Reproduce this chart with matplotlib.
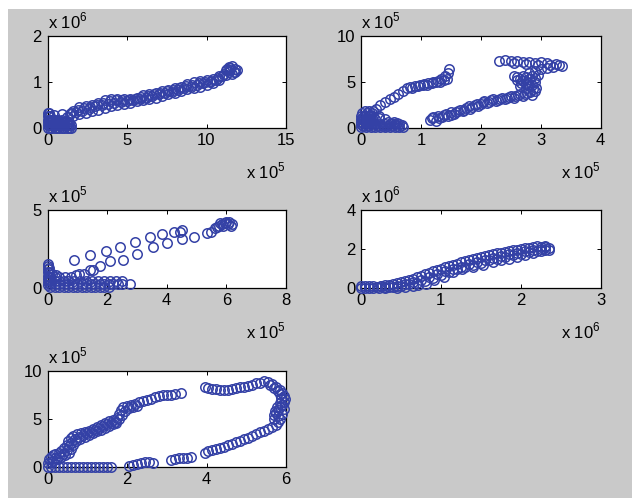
import matplotlib
matplotlib.use("Agg")
import matplotlib.pyplot as plt
from matplotlib.patches import Rectangle

plt.rcParams['font.family'] = ['Liberation Sans', 'DejaVu Sans']

# ---- panel 1: x in units of 1e5, y in units of 1e6 ----
p1_origin = [(0.0, 0.0), (0.15, 0.0), (0.3, 0.0), (0.45, 0.0), (0.6, 0.0), (0.75, 0.0),
             (0.9, 0.0), (1.05, 0.0), (1.2, 0.0), (1.35, 0.0), (1.5, 0.0),
             (0.0, 0.06), (0.15, 0.06), (0.3, 0.06), (0.45, 0.06), (0.6, 0.06), (0.75, 0.06),
             (0.9, 0.06), (1.05, 0.06), (1.2, 0.06), (1.35, 0.06), (1.5, 0.06),
             (0.0, 0.12), (0.15, 0.12), (0.3, 0.12), (0.45, 0.12), (0.6, 0.12), (0.75, 0.12),
             (0.9, 0.12), (1.05, 0.12), (1.2, 0.12), (1.35, 0.12),
             (0.0, 0.18), (0.1, 0.18), (0.2, 0.18), (0.35, 0.18), (0.5, 0.18), (0.65, 0.18),
             (0.9, 0.18), (0.0, 0.25), (0.08, 0.25), (0.18, 0.25), (0.02, 0.32), (0.1, 0.32)]
p1_band = [(1.6, 0.38), (2.0, 0.45), (2.4, 0.48), (2.8, 0.5), (3.2, 0.55), (3.6, 0.6),
           (4.0, 0.62), (4.4, 0.63), (4.8, 0.62), (5.2, 0.62), (5.6, 0.65), (6.0, 0.72),
           (6.4, 0.74), (6.8, 0.77), (7.2, 0.8), (7.6, 0.83), (8.0, 0.87), (8.4, 0.9),
           (8.8, 0.95), (9.2, 0.99), (9.6, 1.02), (10.0, 1.05), (10.4, 1.07), (10.8, 1.12),
           (11.2, 1.25), (11.5, 1.3), (11.8, 1.28),
           (1.4, 0.3), (1.8, 0.35), (2.2, 0.38), (2.6, 0.42), (3.0, 0.47), (3.4, 0.5),
           (3.8, 0.53), (4.2, 0.55), (4.6, 0.57), (5.0, 0.58), (5.4, 0.6), (5.8, 0.63),
           (6.2, 0.66), (6.6, 0.7), (7.0, 0.73), (7.4, 0.76), (7.8, 0.79), (8.2, 0.83),
           (8.6, 0.87), (9.0, 0.9), (9.4, 0.93), (9.8, 0.97), (10.2, 1.0), (10.6, 1.04),
           (11.0, 1.12), (11.4, 1.22), (11.7, 1.22),
           (1.2, 0.24), (1.6, 0.27), (2.0, 0.3), (2.4, 0.33), (2.8, 0.36), (3.2, 0.4),
           (3.6, 0.44), (4.0, 0.47), (4.4, 0.5), (4.8, 0.52), (5.2, 0.55), (5.6, 0.58),
           (6.0, 0.6), (6.4, 0.63), (6.8, 0.66), (7.2, 0.7), (7.6, 0.73), (8.0, 0.76),
           (8.4, 0.8), (8.8, 0.84), (9.2, 0.87), (9.6, 0.9), (10.0, 0.93), (10.4, 0.98),
           (10.8, 1.05), (11.2, 1.15), (11.6, 1.18), (11.4, 1.32), (11.9, 1.25),
           (1.5, 0.33), (1.9, 0.4), (2.3, 0.43), (2.7, 0.46), (3.1, 0.5), (3.5, 0.55),
           (3.9, 0.58), (4.3, 0.6), (4.7, 0.6), (5.1, 0.6), (5.5, 0.63), (5.9, 0.68),
           (6.3, 0.7), (6.7, 0.74), (7.1, 0.77), (7.5, 0.8), (7.9, 0.83), (8.3, 0.86),
           (8.7, 0.91), (9.1, 0.94), (9.5, 0.98), (9.9, 1.01), (10.3, 1.03), (10.7, 1.08),
           (11.1, 1.18), (11.5, 1.26), (11.3, 1.28), (11.6, 1.34), (11.8, 1.22),
           (0.42, 0.28), (0.9, 0.3)]

# ---- panel 2: x in units of 1e5, y in units of 1e5 ----
p2_origin = [(0.0, 0.1), (0.08, 0.1), (0.16, 0.1), (0.24, 0.1), (0.32, 0.1), (0.4, 0.1),
             (0.48, 0.1), (0.56, 0.1), (0.64, 0.1), (0.7, 0.1),
             (0.04, 0.25), (0.12, 0.25), (0.2, 0.25), (0.28, 0.25), (0.36, 0.25), (0.44, 0.25),
             (0.52, 0.25), (0.6, 0.25), (0.68, 0.3),
             (0.0, 0.4), (0.08, 0.4), (0.16, 0.4), (0.24, 0.4), (0.32, 0.4), (0.4, 0.4),
             (0.48, 0.4), (0.56, 0.4), (0.64, 0.4),
             (0.04, 0.55), (0.12, 0.55), (0.2, 0.55), (0.5, 0.55), (0.6, 0.5),
             (0.0, 0.7), (0.08, 0.7), (0.16, 0.7), (0.45, 0.7), (0.55, 0.7),
             (0.04, 0.85), (0.12, 0.85), (0.2, 0.85),
             (0.0, 1.0), (0.08, 1.0), (0.16, 1.0), (0.24, 1.0), (0.4, 1.0),
             (0.3, 1.1), (0.04, 1.15),
             (0.0, 1.3), (0.06, 1.3), (0.12, 1.3), (0.2, 1.3), (0.3, 1.3), (0.15, 1.45),
             (0.02, 1.6), (0.1, 1.6), (0.18, 1.6), (0.06, 1.9), (0.14, 1.9)]
p2_left_arm = [(0.2, 1.8), (0.25, 2.1), (0.32, 2.5), (0.4, 2.8), (0.48, 3.1), (0.55, 3.4),
               (0.62, 3.7), (0.7, 4.0), (0.76, 4.3), (0.82, 4.5), (0.9, 4.6), (0.98, 4.7),
               (1.05, 4.8), (1.12, 4.9), (1.2, 5.0), (1.28, 5.1), (1.34, 5.3), (1.4, 5.6),
               (1.45, 6.0), (1.47, 6.4), (0.86, 4.4), (0.95, 4.55), (1.03, 4.65), (1.1, 4.7),
               (1.18, 4.85), (1.25, 4.95), (1.32, 5.05), (1.38, 5.2), (1.43, 5.3)]
p2_right_arm = [(1.15, 0.9), (1.2, 1.2), (1.25, 0.8), (1.3, 1.1), (1.38, 1.4), (1.45, 1.3),
                (1.5, 1.7), (1.55, 1.5), (1.62, 1.9), (1.7, 1.8), (1.75, 2.2), (1.82, 2.1),
                (1.9, 2.5), (1.96, 2.4), (2.03, 2.8), (2.1, 2.7), (2.17, 3.0), (2.25, 2.9),
                (2.32, 3.2), (2.4, 3.1), (2.47, 3.4), (2.55, 3.3), (2.62, 3.6), (2.7, 3.5),
                (2.78, 3.8), (2.85, 3.6), (2.9, 4.0), (2.92, 4.4),
                (1.18, 1.05), (1.28, 1.3), (1.35, 1.2), (1.42, 1.55), (1.5, 1.45), (1.58, 1.7),
                (1.66, 2.0), (1.72, 1.95), (1.8, 2.35), (1.86, 2.25), (1.93, 2.6), (2.0, 2.6),
                (2.06, 2.9), (2.14, 2.85), (2.2, 3.1), (2.28, 3.05), (2.36, 3.3), (2.44, 3.25),
                (2.5, 3.5), (2.58, 3.45), (2.66, 3.7), (2.74, 3.65), (2.82, 3.9), (2.88, 4.2),
                (2.65, 4.6), (2.75, 4.8), (2.85, 4.7), (2.9, 5.0), (2.7, 5.1), (2.8, 5.3),
                (2.6, 5.5), (2.7, 5.7), (2.85, 5.6), (2.95, 5.8), (2.75, 4.4), (2.6, 5.2),
                (2.55, 5.7), (2.8, 4.55), (2.68, 4.9), (2.78, 5.05), (2.65, 5.35), (2.9, 5.4),
                (2.75, 5.5),
                (2.8, 6.0), (2.9, 6.2), (3.0, 6.4), (3.1, 6.5), (3.2, 6.6), (3.3, 6.8),
                (3.25, 7.0), (3.1, 7.1), (3.0, 7.2), (2.9, 7.1), (2.8, 7.2), (2.7, 7.2),
                (2.6, 7.3), (2.5, 7.3), (2.4, 7.4), (2.3, 7.3), (3.15, 6.9), (3.35, 6.7),
                (2.55, 7.1), (2.75, 7.0), (2.95, 6.9)]

# ---- panel 3: x in units of 1e5, y in units of 1e5 ----
p3_origin = [(0.0, 0.2), (0.0, 0.4), (0.0, 0.6), (0.0, 0.8), (0.0, 1.0), (0.0, 1.2),
             (0.0, 1.4), (0.03, 1.55), (0.06, 1.3), (0.06, 1.0), (0.06, 0.7), (0.1, 0.5),
             (0.1, 0.05), (0.25, 0.05), (0.4, 0.05), (0.55, 0.05), (0.7, 0.05), (0.85, 0.05),
             (1.0, 0.05), (1.15, 0.05), (1.3, 0.05), (1.45, 0.05), (1.6, 0.05), (1.75, 0.05),
             (1.9, 0.05), (2.05, 0.05),
             (0.1, 0.25), (0.25, 0.25), (0.4, 0.25), (0.55, 0.25), (0.7, 0.25), (0.85, 0.25),
             (1.0, 0.25), (1.15, 0.25), (1.3, 0.25), (1.45, 0.25), (1.6, 0.25), (1.75, 0.25),
             (1.9, 0.25), (2.05, 0.25), (2.2, 0.25), (2.35, 0.25), (2.5, 0.25), (2.76, 0.28),
             (0.1, 0.45), (0.25, 0.45), (0.4, 0.45), (0.55, 0.45), (0.7, 0.45), (0.9, 0.45),
             (1.1, 0.45), (1.3, 0.45), (1.5, 0.45), (1.7, 0.45), (1.9, 0.45), (2.1, 0.45),
             (2.3, 0.45), (2.5, 0.45),
             (0.1, 0.7), (0.25, 0.7), (0.4, 0.7), (0.6, 0.7), (0.15, 0.9), (0.3, 0.85)]
p3_upper = [(0.9, 1.78), (1.41, 2.1), (1.97, 2.38), (2.42, 2.6), (2.93, 2.96), (3.44, 3.24),
            (3.83, 3.45), (4.23, 3.6), (4.51, 3.71), (4.45, 3.6)]
p3_lower = [(0.79, 0.71), (0.96, 0.82), (1.07, 0.92), (1.24, 0.88), (1.41, 1.14), (1.52, 1.14),
            (1.75, 1.39), (2.08, 1.72), (2.54, 1.82), (2.99, 2.21), (3.55, 2.6), (4.0, 2.9),
            (4.51, 3.11), (4.9, 3.24), (5.35, 3.54), (5.63, 3.82)]
p3_end = [(5.75, 4.0), (5.85, 4.1), (5.95, 4.15), (6.05, 4.1), (6.15, 4.0), (5.9, 3.95),
          (6.0, 4.2), (5.8, 4.15), (6.1, 4.2), (5.7, 3.9), (6.2, 4.1), (5.5, 3.6)]

# ---- panel 4: x in units of 1e6, y in units of 1e6 ----
p4_origin = [(0.0, 0.0), (0.05, 0.0), (0.1, 0.0), (0.15, 0.02), (0.2, 0.05), (0.0, 0.08),
             (0.05, 0.1), (0.1, 0.08), (0.15, 0.1), (0.25, 0.1), (0.3, 0.05), (0.22, 0.0)]
p4_band = [(0.3, 0.15), (0.4, 0.22), (0.5, 0.3), (0.6, 0.42), (0.7, 0.55), (0.8, 0.7),
           (0.9, 0.85), (1.0, 1.0), (1.1, 1.12), (1.2, 1.25), (1.3, 1.38), (1.4, 1.5),
           (1.5, 1.6), (1.6, 1.68), (1.7, 1.78), (1.8, 1.85), (1.9, 1.93), (2.0, 2.0),
           (2.1, 2.07), (2.2, 2.15), (2.3, 2.15), (2.35, 2.05),
           (0.25, 0.08), (0.35, 0.15), (0.45, 0.25), (0.55, 0.35), (0.65, 0.48), (0.75, 0.62),
           (0.85, 0.78), (0.95, 0.92), (1.05, 1.06), (1.15, 1.18), (1.25, 1.32), (1.35, 1.44),
           (1.45, 1.55), (1.55, 1.64), (1.65, 1.73), (1.75, 1.81), (1.85, 1.89), (1.95, 1.97),
           (2.05, 2.03), (2.15, 2.1), (2.25, 2.1),
           (0.35, 0.05), (0.45, 0.12), (0.55, 0.2), (0.65, 0.3), (0.75, 0.42), (0.85, 0.55),
           (0.95, 0.7), (1.05, 0.85), (1.15, 0.98), (1.25, 1.1), (1.35, 1.22), (1.45, 1.33),
           (1.55, 1.44), (1.65, 1.54), (1.75, 1.63), (1.85, 1.72), (1.95, 1.8), (2.05, 1.88),
           (2.15, 1.95), (2.25, 2.02), (2.3, 1.95),
           (0.4, 0.05), (0.5, 0.1), (0.6, 0.18), (0.7, 0.28), (0.8, 0.38), (0.9, 0.52),
           (1.0, 0.68), (1.1, 0.82), (1.2, 0.96), (1.3, 1.08), (1.4, 1.2), (1.5, 1.3),
           (1.6, 1.42), (1.7, 1.5), (1.8, 1.6), (1.9, 1.68), (2.0, 1.76), (2.1, 1.84),
           (2.2, 1.9), (2.3, 2.08),
           (0.3, 0.0), (0.45, 0.0), (0.55, 0.05), (0.65, 0.1), (0.72, 0.15),
           (0.81, 0.22), (0.92, 0.39), (1.04, 0.57), (1.15, 0.82), (1.27, 0.99), (1.4, 1.08),
           (1.53, 1.17), (1.65, 1.34), (1.75, 1.42), (1.85, 1.5), (1.95, 1.6), (2.05, 1.7),
           (2.15, 1.78), (2.25, 1.88), (2.35, 1.95)]

# ---- panel 5: x in units of 1e5, y in units of 1e5 ----
p5_bottom = [(0.0, 0.0), (0.1, 0.0), (0.2, 0.0), (0.3, 0.0), (0.4, 0.0), (0.5, 0.0),
             (0.6, 0.0), (0.7, 0.0), (0.8, 0.0), (0.9, 0.0), (1.0, 0.0), (1.1, 0.0),
             (1.2, 0.0), (1.3, 0.0), (1.4, 0.0), (1.5, 0.0), (1.6, 0.0),
             (2.05, 0.1), (2.15, 0.25), (2.25, 0.35), (2.35, 0.45), (2.45, 0.5), (2.55, 0.5),
             (2.65, 0.45),
             (3.1, 0.75), (3.2, 0.85), (3.3, 0.9), (3.4, 0.95), (3.5, 0.95), (3.6, 1.0)]
p5_right = [(3.95, 1.5), (4.05, 1.7), (4.15, 1.8), (4.25, 1.9), (4.35, 2.0), (4.45, 2.1),
            (4.55, 2.3), (4.65, 2.4), (4.75, 2.6), (4.85, 2.7), (4.95, 2.9), (5.05, 3.0),
            (5.15, 3.2), (5.25, 3.4), (5.35, 3.6), (5.45, 3.8), (5.55, 4.0), (5.65, 4.2),
            (5.75, 4.4), (5.8, 4.7), (5.85, 5.0),
            (5.8, 5.3), (5.75, 5.6), (5.8, 5.9), (5.85, 6.2), (5.9, 6.5), (5.95, 6.8),
            (5.98, 7.1), (5.95, 7.4), (5.9, 7.7), (5.85, 8.0), (5.75, 8.3), (5.65, 8.6),
            (5.55, 8.9), (5.45, 9.0), (5.9, 5.5), (5.7, 5.0), (5.95, 6.0),
            (5.7, 5.4), (5.72, 5.8), (5.78, 6.3), (5.85, 6.7), (5.88, 7.2), (5.85, 7.6),
            (5.8, 7.9), (5.7, 8.2), (5.6, 8.5),
            (5.35, 8.8), (5.25, 8.7), (5.15, 8.55), (5.05, 8.45), (4.95, 8.35), (4.85, 8.3),
            (4.75, 8.2), (4.65, 8.1), (4.55, 8.05), (4.45, 8.0), (4.35, 8.05), (4.25, 8.1),
            (4.15, 8.15), (4.05, 8.2), (3.97, 8.3)]
p5_left = [(0.0, 0.4), (0.05, 0.8), (0.1, 1.0), (0.15, 1.2), (0.2, 1.35), (0.28, 1.5),
           (0.35, 1.7), (0.42, 2.0), (0.48, 2.3), (0.52, 2.7), (0.58, 3.0), (0.65, 3.2),
           (0.75, 3.4), (0.85, 3.55), (0.95, 3.65), (1.05, 3.8), (1.15, 4.0), (1.25, 4.2),
           (1.35, 4.4), (1.45, 4.6), (1.55, 4.8), (1.65, 4.9), (1.7, 4.7), (1.75, 5.1),
           (1.8, 5.5), (1.85, 5.9), (1.9, 6.2), (2.0, 6.35), (2.1, 6.5), (2.2, 6.6),
           (2.3, 6.8), (2.4, 6.9), (2.5, 7.0), (2.6, 7.1), (2.7, 7.25), (2.8, 7.35),
           (2.9, 7.45), (3.0, 7.5), (3.1, 7.55), (3.2, 7.6), (3.35, 7.7),
           (0.1, 0.5), (0.2, 0.9), (0.3, 1.1), (0.4, 1.4), (0.5, 1.8), (0.55, 2.2),
           (0.6, 2.5), (0.7, 2.9), (0.8, 3.1), (0.9, 3.3), (1.0, 3.5), (1.1, 3.6),
           (1.2, 3.9), (1.3, 4.1), (1.4, 4.3), (1.5, 4.5), (1.6, 4.6),
           (0.15, 0.6), (0.25, 0.8), (0.35, 1.0), (0.45, 1.2), (0.55, 1.5), (0.6, 1.9),
           (0.65, 2.3), (0.72, 2.7), (0.82, 2.9), (0.95, 3.1), (1.05, 3.3), (1.15, 3.5),
           (1.25, 3.7), (1.35, 3.9), (1.45, 4.1), (1.55, 4.3), (1.65, 4.5), (1.72, 4.6),
           (1.8, 5.0), (1.88, 5.4), (1.95, 5.8), (2.05, 6.1), (2.15, 6.3), (2.25, 6.4)]

panels = [
    dict(groups=[p1_origin, p1_band], xlim=(0, 15), ylim=(0, 2),
         xticks=[0, 5, 10, 15], yticks=[0, 1, 2], xexp=5, yexp=6),
    dict(groups=[p2_origin, p2_left_arm, p2_right_arm], xlim=(0, 4), ylim=(0, 10),
         xticks=[0, 1, 2, 3, 4], yticks=[0, 5, 10], xexp=5, yexp=5),
    dict(groups=[p3_origin, p3_upper, p3_lower, p3_end], xlim=(0, 8), ylim=(0, 5),
         xticks=[0, 2, 4, 6, 8], yticks=[0, 5], xexp=5, yexp=5),
    dict(groups=[p4_origin, p4_band], xlim=(0, 3), ylim=(0, 4),
         xticks=[0, 1, 2, 3], yticks=[0, 2, 4], xexp=6, yexp=6),
    dict(groups=[p5_bottom, p5_right, p5_left], xlim=(0, 6), ylim=(0, 10),
         xticks=[0, 2, 4, 6], yticks=[0, 5, 10], xexp=None, yexp=5),
]

W, H = 632, 498
# axes boxes in pixels: left, top, right, bottom
boxes = [(47.5, 36, 286, 128), (361, 36, 600.5, 128),
         (47.5, 210, 286, 288), (361, 210, 600.5, 288),
         (47.5, 371, 286, 467)]

marker_color = '#3441a6'
fig = plt.figure(figsize=(W / 100, H / 100), dpi=100, facecolor='white')
fig.patches.append(Rectangle((8 / W, 0), 1 - 8 / W, 1 - 9 / H, transform=fig.transFigure,
                             facecolor='#c9c9c9', edgecolor='none', zorder=-10))

for spec, (l, t, r, b) in zip(panels, boxes):
    ax = fig.add_axes([l / W, 1 - b / H, (r - l) / W, (b - t) / H])
    ax.set_facecolor('white')
    for g in spec['groups']:
        xs = [p[0] for p in g]
        ys = [p[1] for p in g]
        ax.plot(xs, ys, 'o', mfc='none', mec=marker_color, ms=6.8, mew=1.1,
                clip_on=False, zorder=3)
    ax.set_xlim(*spec['xlim'])
    ax.set_ylim(*spec['ylim'])
    ax.set_xticks(spec['xticks'])
    ax.set_yticks(spec['yticks'])
    ax.set_xticklabels([str(v) for v in spec['xticks']])
    ax.set_yticklabels([str(v) for v in spec['yticks']])
    ax.tick_params(direction='in', length=3, width=0.7, top=True, right=True,
                   labelsize=12, colors='black', pad=3.5)
    ax.tick_params(axis='y', pad=4)
    for s in ax.spines.values():
        s.set_linewidth(0.9)
        s.set_color('black')
    if spec['xexp'] is not None:
        ax.text(1.0, -50 / (b - t), r'x 10$^{\mathregular{%d}}$' % spec['xexp'],
                transform=ax.transAxes, ha='right', va='baseline', fontsize=12,
                clip_on=False)
    ax.text(0.0, 1 + 8 / (b - t), r'x 10$^{\mathregular{%d}}$' % spec['yexp'],
            transform=ax.transAxes, ha='left', va='baseline', fontsize=12,
            clip_on=False)

fig.savefig('out.png', dpi=100, facecolor=fig.get_facecolor())
